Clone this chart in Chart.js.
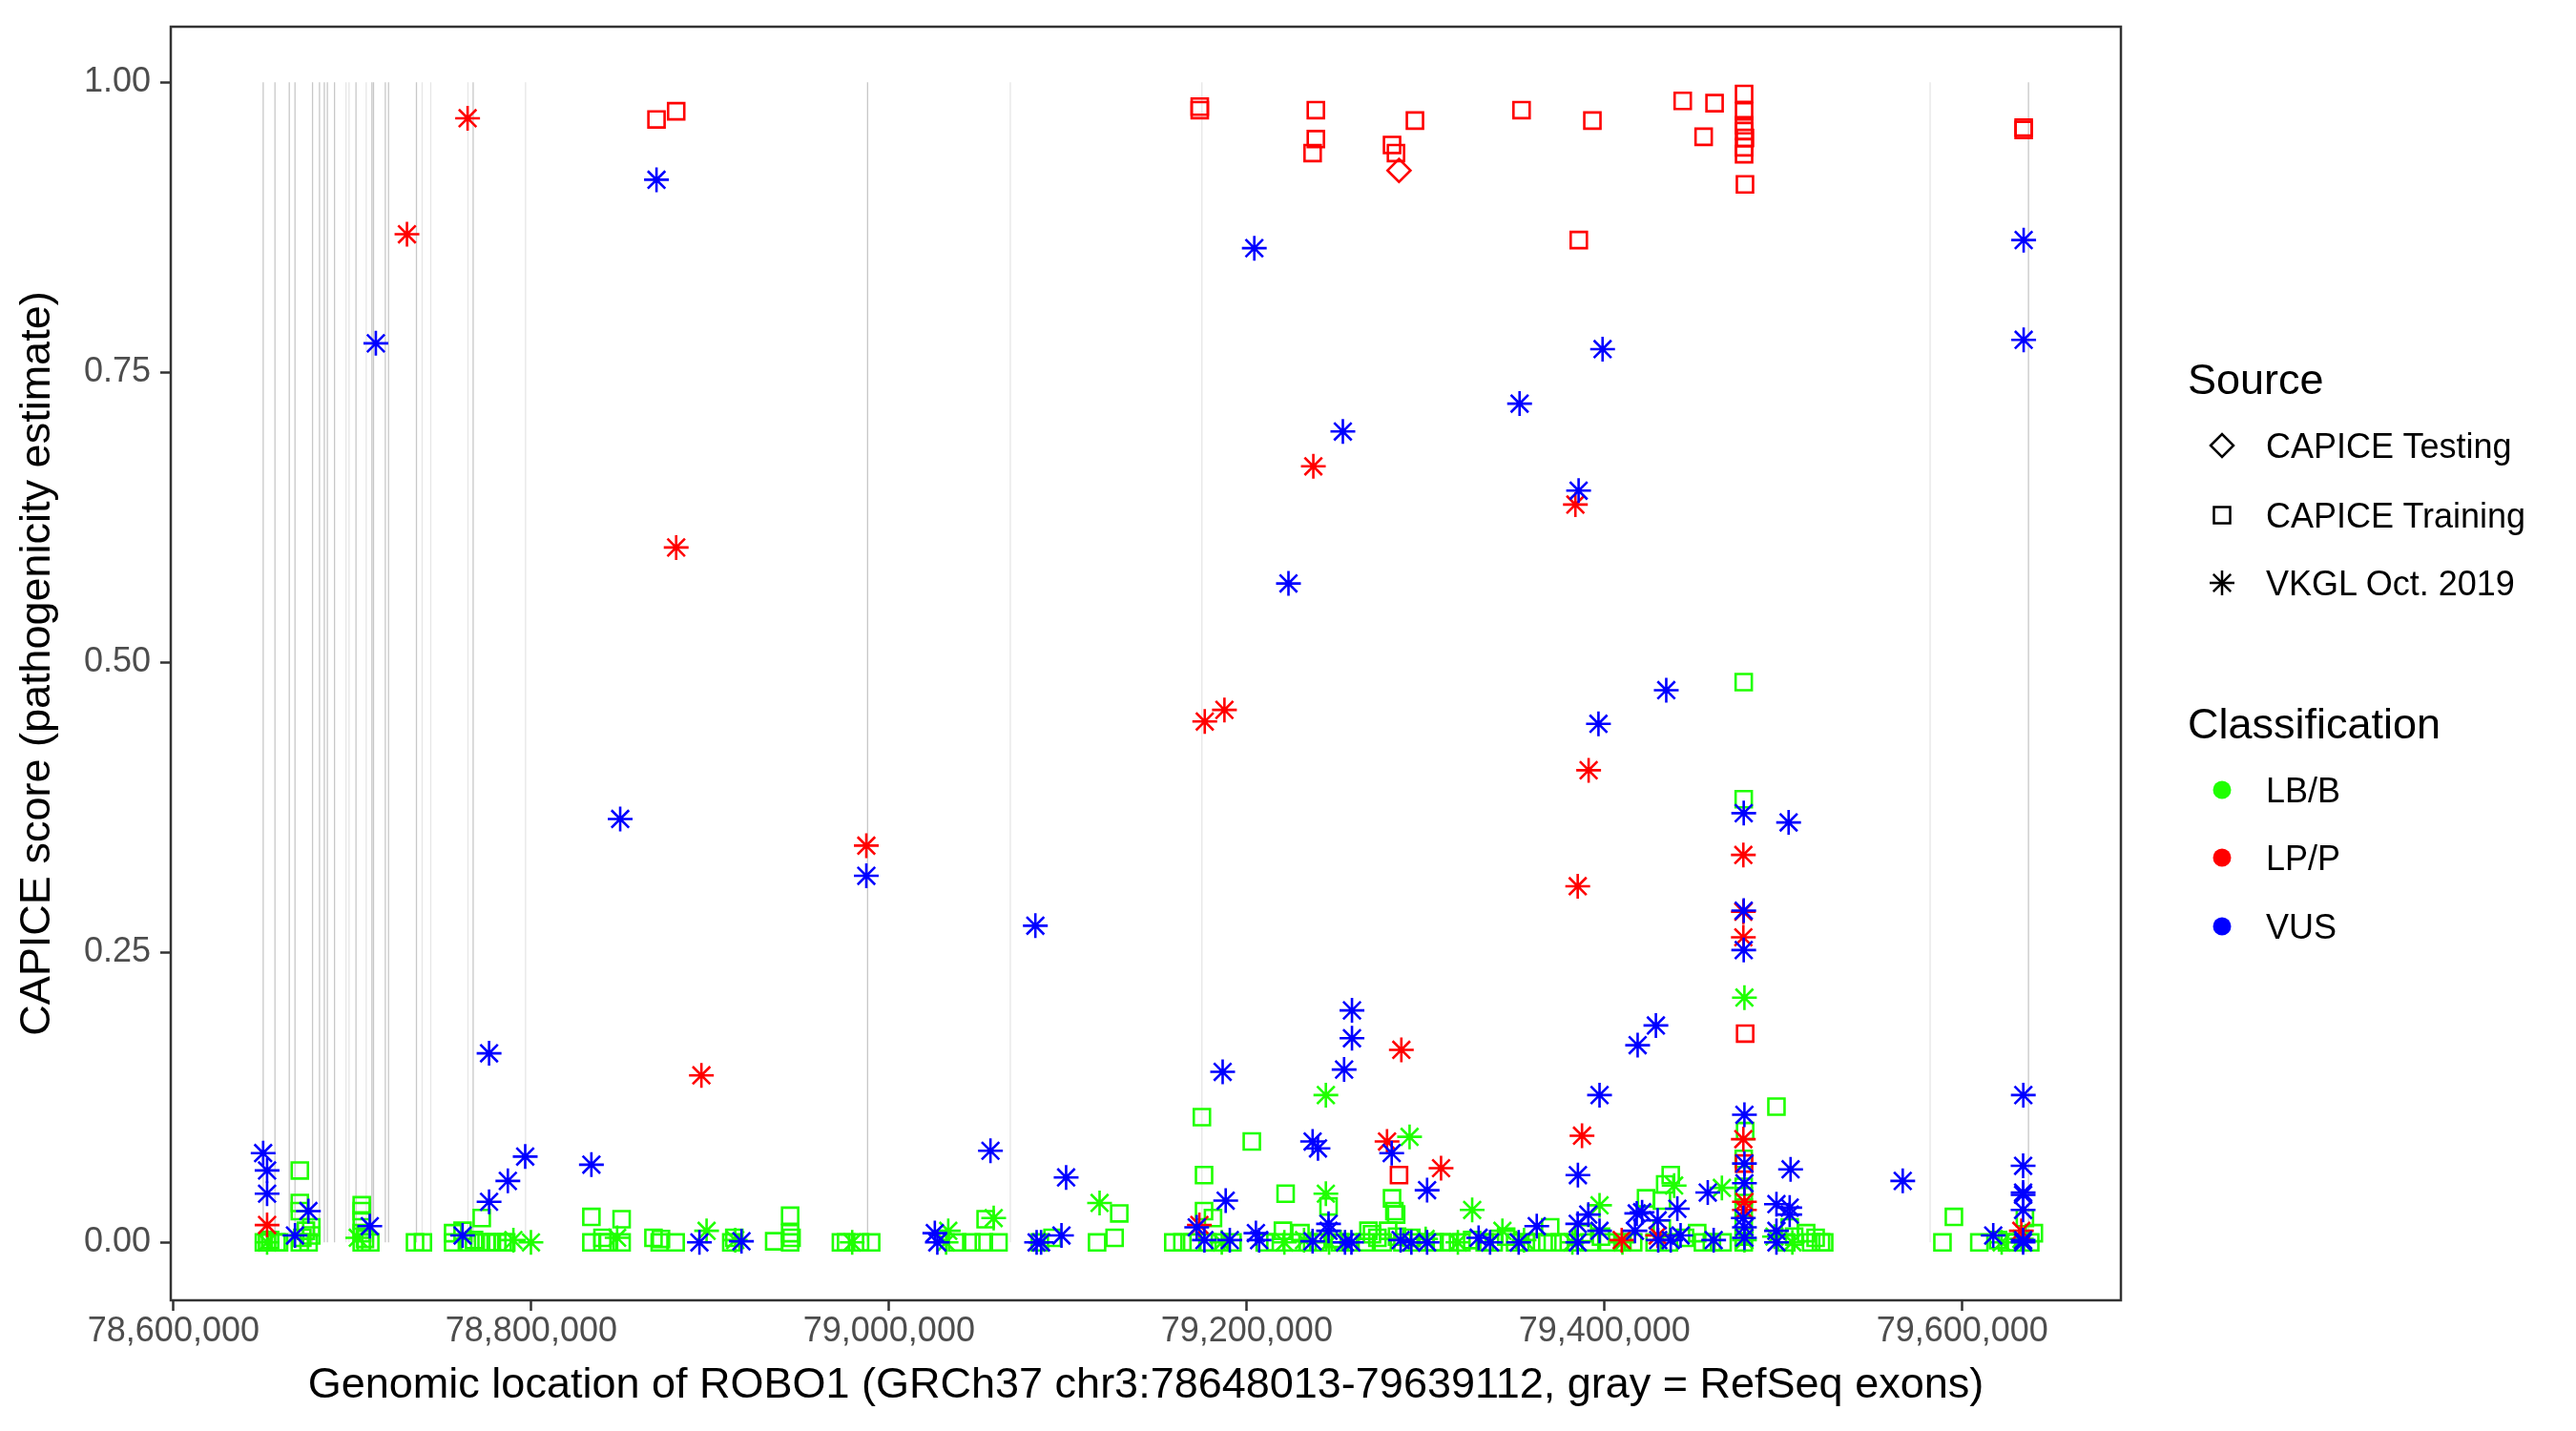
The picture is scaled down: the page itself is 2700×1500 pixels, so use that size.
<!DOCTYPE html>
<html>
<head>
<meta charset="utf-8">
<script src="https://cdn.jsdelivr.net/npm/chart.js@4.4.1/dist/chart.umd.min.js"></script>
<style>
  html, body { margin: 0; padding: 0; background: #ffffff; }
  #wrap { position: relative; width: 2700px; height: 1500px; overflow: hidden; }
  #c { position: absolute; left: 0; top: 0; width: 2700px; height: 1500px; }
  #legend { position: absolute; left: 0; top: 0; }
  #legend text { font-family: 'Liberation Sans', Arial, sans-serif; fill: #000; }
</style>
</head>
<body>
<div id="wrap">
  <canvas id="c" width="2700" height="1500"></canvas>
  <svg id="legend" width="2700" height="1500" xmlns="http://www.w3.org/2000/svg">
    <text x="2293" y="397" font-size="45" dominant-baseline="central">Source</text>
    <polygon points="2317,467 2329,455 2341,467 2329,479" fill="none" stroke="#000" stroke-width="2.5"/>
    <text x="2375" y="467" font-size="36" dominant-baseline="central">CAPICE Testing</text>
    <rect x="2320.5" y="531.5" width="17" height="17" fill="none" stroke="#000" stroke-width="2.5"/>
    <text x="2375" y="540" font-size="36" dominant-baseline="central">CAPICE Training</text>
    <g stroke="#000" stroke-width="2.5">
      <line x1="2316" y1="611" x2="2342" y2="611"/>
      <line x1="2329" y1="598" x2="2329" y2="624"/>
      <line x1="2319.8" y1="601.8" x2="2338.2" y2="620.2"/>
      <line x1="2319.8" y1="620.2" x2="2338.2" y2="601.8"/>
    </g>
    <text x="2375" y="611" font-size="36" dominant-baseline="central">VKGL Oct. 2019</text>
    <text x="2293" y="758" font-size="45" dominant-baseline="central">Classification</text>
    <circle cx="2329" cy="828" r="9.5" fill="#1fff00"/>
    <text x="2375" y="828" font-size="36" dominant-baseline="central">LB/B</text>
    <circle cx="2329" cy="899" r="9.5" fill="#ff0000"/>
    <text x="2375" y="899" font-size="36" dominant-baseline="central">LP/P</text>
    <circle cx="2329" cy="971" r="9.5" fill="#0000ff"/>
    <text x="2375" y="971" font-size="36" dominant-baseline="central">VUS</text>
  </svg>
</div>
<script>
// ---------------- DATA ----------------
const xTicks = [78600000, 78800000, 79000000, 79200000, 79400000, 79600000];
const xTickLabels = ["78,600,000", "78,800,000", "79,000,000", "79,200,000", "79,400,000", "79,600,000"];
const yTicks = [0, 0.25, 0.5, 0.75, 1.0];
const yTickLabels = ["0.00", "0.25", "0.50", "0.75", "1.00"];

// RefSeq exon positions (gray vertical lines): stronger and fainter lines
const exonPosDark = [78650130, 78656700, 78664700, 78667900, 78677700, 78681600, 78684300, 78686000,
  78690000, 78702000, 78710900, 78711800, 78718400, 78720200, 78735800, 78767500, 78988000, 79637000];
const exonPosLight = [78696400, 78698100, 78707700, 78739000, 78743800, 78764600, 78796800,
  79067800, 79174900, 79582000];

// CAPICE Training, LB/B
const trainLB_pos = [78650500,78652300,78654000,78657600,78659000,78670600,78670600,78670600,78670600,78672000,
  78674000,78675500,78677000,78677000,78705200,78705200,78705200,78705200,78705200,78707000,
  78710000,78735000,78739400,78756300,78756300,78761600,78764000,78768000,78772300,78771000,
  78775000,78778000,78781000,78784000,78786000,78833600,78833600,78839800,78839800,78843000,
  78850500,78850500,78868300,78871800,78872500,78880700,78911800,78913500,78935800,78944700,
  78944700,78944700,78945500,78973100,78976000,78983800,78990000,79038000,79046000,79053000,
  79054000,79061200,79084300,79091400,79116300,79126100,79128700,
  79158900,79164000,79169500,79174900,79176100,79176100,79181100,79178000,79185000,79192000,
  79202800,79210000,79216000,79220200,79221700,79225000,79230000,79234000,79240000,79245700,
  79248000,79252000,79258000,79266000,79268000,79270000,79273000,79276000,79279000,79281200,
  79282500,79283500,79284000,79287000,79292000,79296000,79300000,79305000,79309000,79313000,
  79320000,79326000,79333000,79338000,79345000,79350000,79356000,79362000,79368000,79369600,
  79375000,79380000,79388000,79392000,79398000,79402000,79410000,
  79416000,79423200,79433900,79432100,79437000,79432000,79428000,79436000,79445000,79451800,
  79455000,79460000,79466000,79477800,79477800,79478600,79477800,79477800,79477800,79477800,
  79477800,79477800,79477800,79496100,79503500,79501600,79506000,79512700,79515500,79518000,
  79521000,79522800,79595300,79588900,79609500,79620000,79625000,79630000,79635000,79640000,79638000];
const trainLB_score = [0.000,0.000,0.002,0.000,0.000,0.062,0.034,0.027,0.000,0.004,
  0.010,0.000,0.006,0.013,0.032,0.027,0.019,0.008,0.000,0.003,
  0.000,0.000,0.000,0.008,0.000,0.010,0.000,0.002,0.021,0.000,
  0.000,0.000,0.000,0.000,0.000,0.022,0.000,0.004,0.000,0.000,
  0.020,0.000,0.004,0.000,0.003,0.000,0.000,0.004,0.001,0.023,
  0.008,0.000,0.004,0.000,0.000,0.000,0.000,0.000,0.000,0.000,
  0.020,0.000,0.000,0.004,0.000,0.004,0.025,
  0.000,0.000,0.000,0.108,0.058,0.027,0.021,0.000,0.000,0.000,
  0.087,0.000,0.000,0.010,0.042,0.000,0.008,0.000,0.000,0.031,
  0.003,0.000,0.000,0.000,0.010,0.007,0.004,0.000,0.010,0.038,
  0.027,0.024,0.005,0.000,0.004,0.000,0.000,0.000,0.000,0.000,
  0.000,0.002,0.000,0.000,0.005,0.000,0.000,0.000,0.000,0.013,
  0.000,0.000,0.008,0.000,0.005,0.000,0.000,
  0.000,0.038,0.050,0.036,0.058,0.012,0.000,0.000,0.004,0.008,
  0.000,0.000,0.000,0.483,0.382,0.096,0.072,0.048,0.040,0.030,
  0.015,0.005,0.000,0.117,0.013,0.000,0.005,0.008,0.000,0.004,
  0.000,0.000,0.022,0.000,0.000,0.002,0.000,0.000,0.021,0.008,0.000];

// VKGL Oct. 2019, LB/B
const vkglLB_pos = [78652300,78703000,78790000,78799800,78848000,78898000,78914000,78979400,79033100,79031900,
  79058500,79117700,79244200,79244200,79246000,79291000,79326000,79342900,79232000,79221000,
  79186000,79300000,79318000,79355000,79397200,79382000,79410000,79438900,79465600,79478200,
  79478200,79495000,79505000,79622000,79633000];
const vkglLB_score = [0.000,0.004,0.002,0.000,0.004,0.010,0.002,0.000,0.010,0.000,
  0.021,0.034,0.127,0.042,0.000,0.091,0.028,0.010,0.002,0.000,
  0.000,0.003,0.000,0.002,0.032,0.000,0.000,0.049,0.047,0.211,
  0.002,0.005,0.000,0.000,0.003];

// VKGL Oct. 2019, LP/P
const vkglLP_pos = [78652300,78730500,78764400,78881000,78895100,78987300,79173500,79176500,79187500,79237200,
  79278400,79286400,79308600,79383700,79385000,79391100,79387400,79409600,79429700,79477600,
  79477600,79477600,79477600,79478200,79478200,79633000];
const vkglLP_score = [0.015,0.869,0.969,0.599,0.144,0.342,0.015,0.449,0.459,0.669,
  0.087,0.166,0.064,0.636,0.307,0.407,0.092,0.002,0.006,0.334,
  0.285,0.263,0.089,0.035,0.028,0.010];

// CAPICE Training, LP/P
const trainLP_pos = [78870000,78881000,79173700,79173700,79238600,79238600,79236800,79281200,79283400,79294000,
  79353600,79393200,79385600,79443700,79461500,79455400,79478000,79478000,79478000,79478000,
  79478500,79478000,79478000,79478500,79478600,79285100,79478000,79634300,79634300];
const trainLP_score = [0.968,0.975,0.979,0.976,0.976,0.951,0.939,0.946,0.939,0.967,
  0.976,0.967,0.864,0.984,0.982,0.953,0.990,0.975,0.963,0.958,
  0.952,0.944,0.938,0.912,0.180,0.058,0.068,0.961,0.959];

// CAPICE Testing, LP/P
const testLP_pos = [79285100];
const testLP_score = [0.924];

// VKGL Oct. 2019, VUS
const vkglVUS_pos = [78650100,78652300,78652300,78667900,78675400,78709700,78761600,78776400,78776400,78786900,
  78796600,78833600,78894000,78917500,79025600,79027000,79056700,79082500,79085000,79096400,
  79099000,78713100,78849700,78870000,78987300,79081800,79204200,79223300,79253700,79352500,
  79385500,79398900,79396600,79434500,79477800,79477800,79477800,79502900,79634300,79634300,
  79258800,79258800,79254400,79186500,79188200,79172000,79176300,79190500,79205100,79206900,
  79236800,79239800,79245700,79245700,79236800,79254900,79258500,79281000,79300800,79286000,
  79292000,79300800,79329600,79336000,79362100,79352000,79385100,79397200,79385000,79390900,
  79397200,79385000,79418500,79418000,79428700,79421000,79440700,79429700,79457700,79417000,
  79430000,79437000,79442500,79461000,79478200,79478200,79478200,79477600,79478200,79478200,
  79504000,79496100,79503500,79503500,79496100,79496100,79566700,79617300,79634100,79634000,
  79634000,79634000,79634000,79634000,79634000];
const vkglVUS_score = [0.077,0.062,0.042,0.006,0.027,0.014,0.006,0.163,0.035,0.053,
  0.074,0.067,0.000,0.001,0.008,0.000,0.079,0.000,0.000,0.006,
  0.056,0.775,0.365,0.916,0.316,0.273,0.857,0.568,0.699,0.723,
  0.648,0.770,0.447,0.476,0.370,0.286,0.252,0.362,0.864,0.778,
  0.200,0.176,0.149,0.147,0.036,0.013,0.002,0.002,0.008,0.002,
  0.087,0.081,0.016,0.010,0.001,0.000,0.000,0.077,0.045,0.002,
  0.000,0.000,0.004,0.000,0.014,0.000,0.058,0.127,0.016,0.024,
  0.010,0.000,0.170,0.025,0.187,0.026,0.029,0.019,0.043,0.010,
  0.002,0.002,0.006,0.002,0.110,0.068,0.051,0.021,0.013,0.004,
  0.063,0.033,0.030,0.024,0.010,0.000,0.053,0.006,0.127,0.066,
  0.043,0.041,0.028,0.002,0.000];

// ---------------- CHART ----------------
const COL_LB = '#1fff00', COL_LP = '#ff0000', COL_VUS = '#0000ff';
const FONT = "'Liberation Sans', Arial, sans-serif";

function pts(pos, score) { return pos.map((p, i) => ({ x: p, y: score[i] })); }
function markerSet(label, pos, score, color, style, r) {
  return {
    label, data: pts(pos, score), showLine: false,
    pointStyle: style, pointRadius: r, pointHoverRadius: r,
    pointBorderWidth: 2.6, pointHoverBorderWidth: 2.6,
    pointBorderColor: color, pointBackgroundColor: 'rgba(0,0,0,0)', borderColor: color
  };
}
function exonLines(list) {
  const out = [];
  list.forEach(e => { out.push({ x: e, y: 0 }, { x: e, y: 1 }, { x: e, y: null }); });
  return out;
}

const datasets = [
  markerSet('CAPICE Testing LP/P', testLP_pos, testLP_score, COL_LP, 'rectRot', 12),
  markerSet('VKGL VUS', vkglVUS_pos, vkglVUS_score, COL_VUS, 'star', 13),
  markerSet('VKGL LP/P', vkglLP_pos, vkglLP_score, COL_LP, 'star', 13),
  markerSet('CAPICE Training LP/P', trainLP_pos, trainLP_score, COL_LP, 'rect', 12),
  markerSet('VKGL LB/B', vkglLB_pos, vkglLB_score, COL_LB, 'star', 13),
  markerSet('CAPICE Training LB/B', trainLB_pos, trainLB_score, COL_LB, 'rect', 12),
  { label: 'exons', data: exonLines(exonPosDark), showLine: true, spanGaps: false, pointRadius: 0, pointHoverRadius: 0,
    borderColor: '#c8c8c8', borderWidth: 1.3 },
  { label: 'exons2', data: exonLines(exonPosLight), showLine: true, spanGaps: false, pointRadius: 0, pointHoverRadius: 0,
    borderColor: '#e6e6e6', borderWidth: 1.3 }
];

const panelBorder = {
  id: 'panelBorder',
  afterDatasetsDraw(chart) {
    const { ctx, chartArea: a } = chart;
    ctx.save();
    ctx.strokeStyle = '#333333';
    ctx.lineWidth = 2.5;
    ctx.strokeRect(a.left, a.top, a.right - a.left, a.bottom - a.top);
    ctx.restore();
  }
};

new Chart(document.getElementById('c'), {
  type: 'scatter',
  data: { datasets },
  options: {
    responsive: false, animation: false, devicePixelRatio: 1,
    events: [],
    layout: { padding: { left: 0, right: 477, top: 22, bottom: 20 } },
    plugins: { legend: { display: false }, tooltip: { enabled: false } },
    scales: {
      x: {
        type: 'linear', min: 78598458, max: 79688667,
        afterBuildTicks: s => { s.ticks = xTicks.map(v => ({ value: v })); },
        afterFit: s => { s.height = 117; },
        ticks: {
          callback: (v) => { const i = xTicks.indexOf(v); return i >= 0 ? xTickLabels[i] : ''; },
          font: { family: FONT, size: 36, lineHeight: 1 }, color: '#4d4d4d', padding: 4,
          maxRotation: 0, autoSkip: false
        },
        grid: { drawOnChartArea: false, drawTicks: true, tickLength: 11, tickColor: '#333333', tickWidth: 2.5 },
        border: { display: false },
        title: { display: true, text: 'Genomic location of ROBO1 (GRCh37 chr3:78648013-79639112, gray = RefSeq exons)',
          font: { family: FONT, size: 45, lineHeight: 1.2 }, color: '#000000', padding: { top: 0, bottom: 0 } }
      },
      y: {
        type: 'linear', min: -0.0499, max: 1.0479,
        afterBuildTicks: s => { s.ticks = yTicks.map(v => ({ value: v })); },
        afterFit: s => { s.width = 179; },
        ticks: {
          callback: (v) => { const i = yTicks.indexOf(v); return i >= 0 ? yTickLabels[i] : ''; },
          font: { family: FONT, size: 36, lineHeight: 1 }, color: '#4d4d4d', padding: 10, autoSkip: false
        },
        grid: { drawOnChartArea: false, drawTicks: true, tickLength: 11, tickColor: '#333333', tickWidth: 2.5 },
        border: { display: false },
        title: { display: true, text: 'CAPICE score (pathogenicity estimate)',
          font: { family: FONT, size: 45, lineHeight: 1.2 }, color: '#000000', padding: { top: 13, bottom: 0 } }
      }
    }
  },
  plugins: [panelBorder]
});
</script>
</body>
</html>
